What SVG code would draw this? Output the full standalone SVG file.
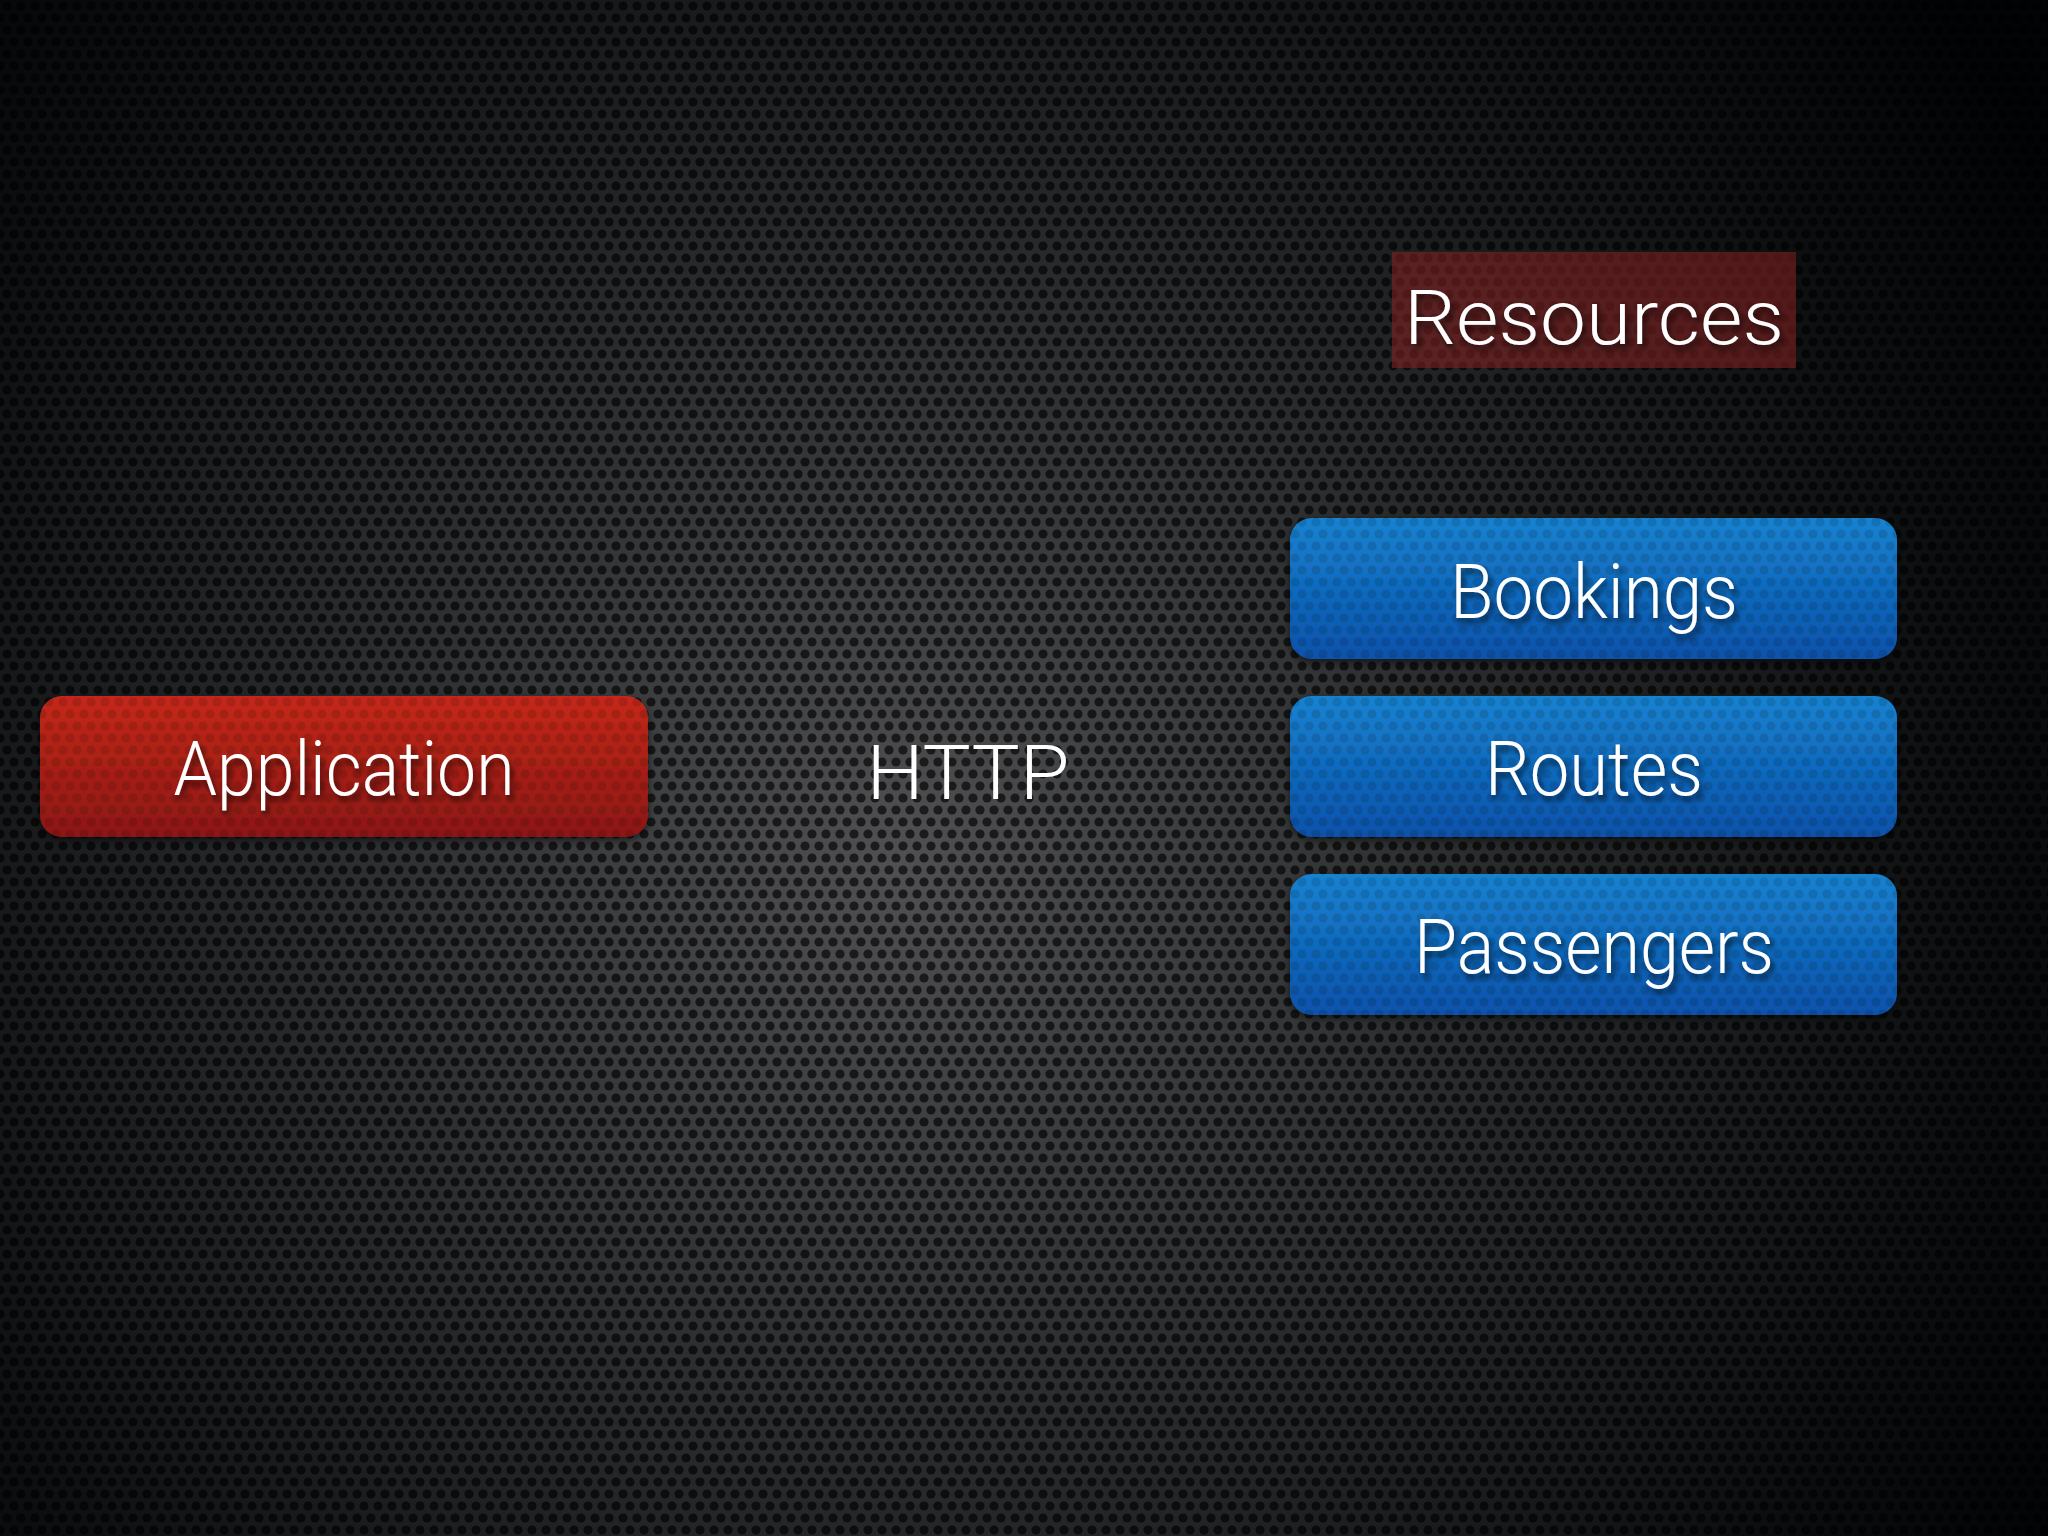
<svg xmlns="http://www.w3.org/2000/svg" width="2048" height="1536" viewBox="0 0 2048 1536">
<defs>
<radialGradient id="bg" cx="900" cy="860" r="1350" gradientUnits="userSpaceOnUse">
<stop offset="0" stop-color="#505052"/>
<stop offset="0.4" stop-color="#2c2e30"/>
<stop offset="0.8" stop-color="#0c0e10"/>
<stop offset="1" stop-color="#020304"/>
</radialGradient>
<pattern id="holes" width="14" height="24" patternUnits="userSpaceOnUse">
<circle cx="7" cy="6" r="4.6" fill="#000"/>
<circle cx="0" cy="18" r="4.6" fill="#000"/>
<circle cx="14" cy="18" r="4.6" fill="#000"/>
</pattern>
<linearGradient id="red" x1="0" y1="0" x2="0" y2="1">
<stop offset="0" stop-color="#c4281a"/>
<stop offset="1" stop-color="#8c1712"/>
</linearGradient>
<linearGradient id="blue" x1="0" y1="0" x2="0" y2="1">
<stop offset="0" stop-color="#1682d0"/>
<stop offset="1" stop-color="#0b52aa"/>
</linearGradient>
<filter id="ts" x="-10%" y="-20%" width="120%" height="150%">
<feDropShadow dx="3" dy="5" stdDeviation="3" flood-color="#000" flood-opacity="0.6"/>
</filter>
<filter id="bs" x="-5%" y="-10%" width="110%" height="130%">
<feDropShadow dx="0" dy="3" stdDeviation="4" flood-color="#000" flood-opacity="0.6"/>
</filter>
</defs>
<style>
.lbl{font-family:Roboto,"Liberation Sans",sans-serif;font-weight:300;font-size:76px;fill:#ffffff;text-anchor:middle}
.box{stroke:none}
.tex{fill:url(#holes);opacity:0.12}
</style>
<rect x="0" y="0" width="2048" height="1536" fill="url(#bg)"/>
<rect x="0" y="0" width="2048" height="1536" fill="url(#holes)" opacity="0.65"/>

<g id="connectors"></g>

<g id="resources">
<rect x="1392" y="252" width="404" height="116" fill="#8a2222" opacity="0.55"/>
<text class="lbl" x="1594" y="344" font-size="80" textLength="380" lengthAdjust="spacingAndGlyphs" filter="url(#ts)">Resources</text>
</g>

<g id="application">
<rect class="box" x="40" y="696" width="608" height="141" rx="22" fill="url(#red)" filter="url(#bs)"/>
<rect class="tex" x="40" y="696" width="608" height="141" rx="22"/>
<text class="lbl" x="344" y="795" textLength="341" lengthAdjust="spacingAndGlyphs" filter="url(#ts)">Application</text>
</g>

<g id="http">
<text class="lbl" x="968" y="799" font-size="82" font-weight="200" textLength="203" lengthAdjust="spacingAndGlyphs">HTTP</text>
</g>

<g id="bookings">
<rect class="box" x="1290" y="518" width="607" height="141" rx="22" fill="url(#blue)" filter="url(#bs)"/>
<rect class="tex" x="1290" y="518" width="607" height="141" rx="22"/>
<text class="lbl" x="1594" y="618" textLength="288" lengthAdjust="spacingAndGlyphs" filter="url(#ts)">Bookings</text>
</g>

<g id="routes">
<rect class="box" x="1290" y="696" width="607" height="141" rx="22" fill="url(#blue)" filter="url(#bs)"/>
<rect class="tex" x="1290" y="696" width="607" height="141" rx="22"/>
<text class="lbl" x="1594" y="795" textLength="218" lengthAdjust="spacingAndGlyphs" filter="url(#ts)">Routes</text>
</g>

<g id="passengers">
<rect class="box" x="1290" y="874" width="607" height="141" rx="22" fill="url(#blue)" filter="url(#bs)"/>
<rect class="tex" x="1290" y="874" width="607" height="141" rx="22"/>
<text class="lbl" x="1594" y="973" textLength="360" lengthAdjust="spacingAndGlyphs" filter="url(#ts)">Passengers</text>
</g>
</svg>
